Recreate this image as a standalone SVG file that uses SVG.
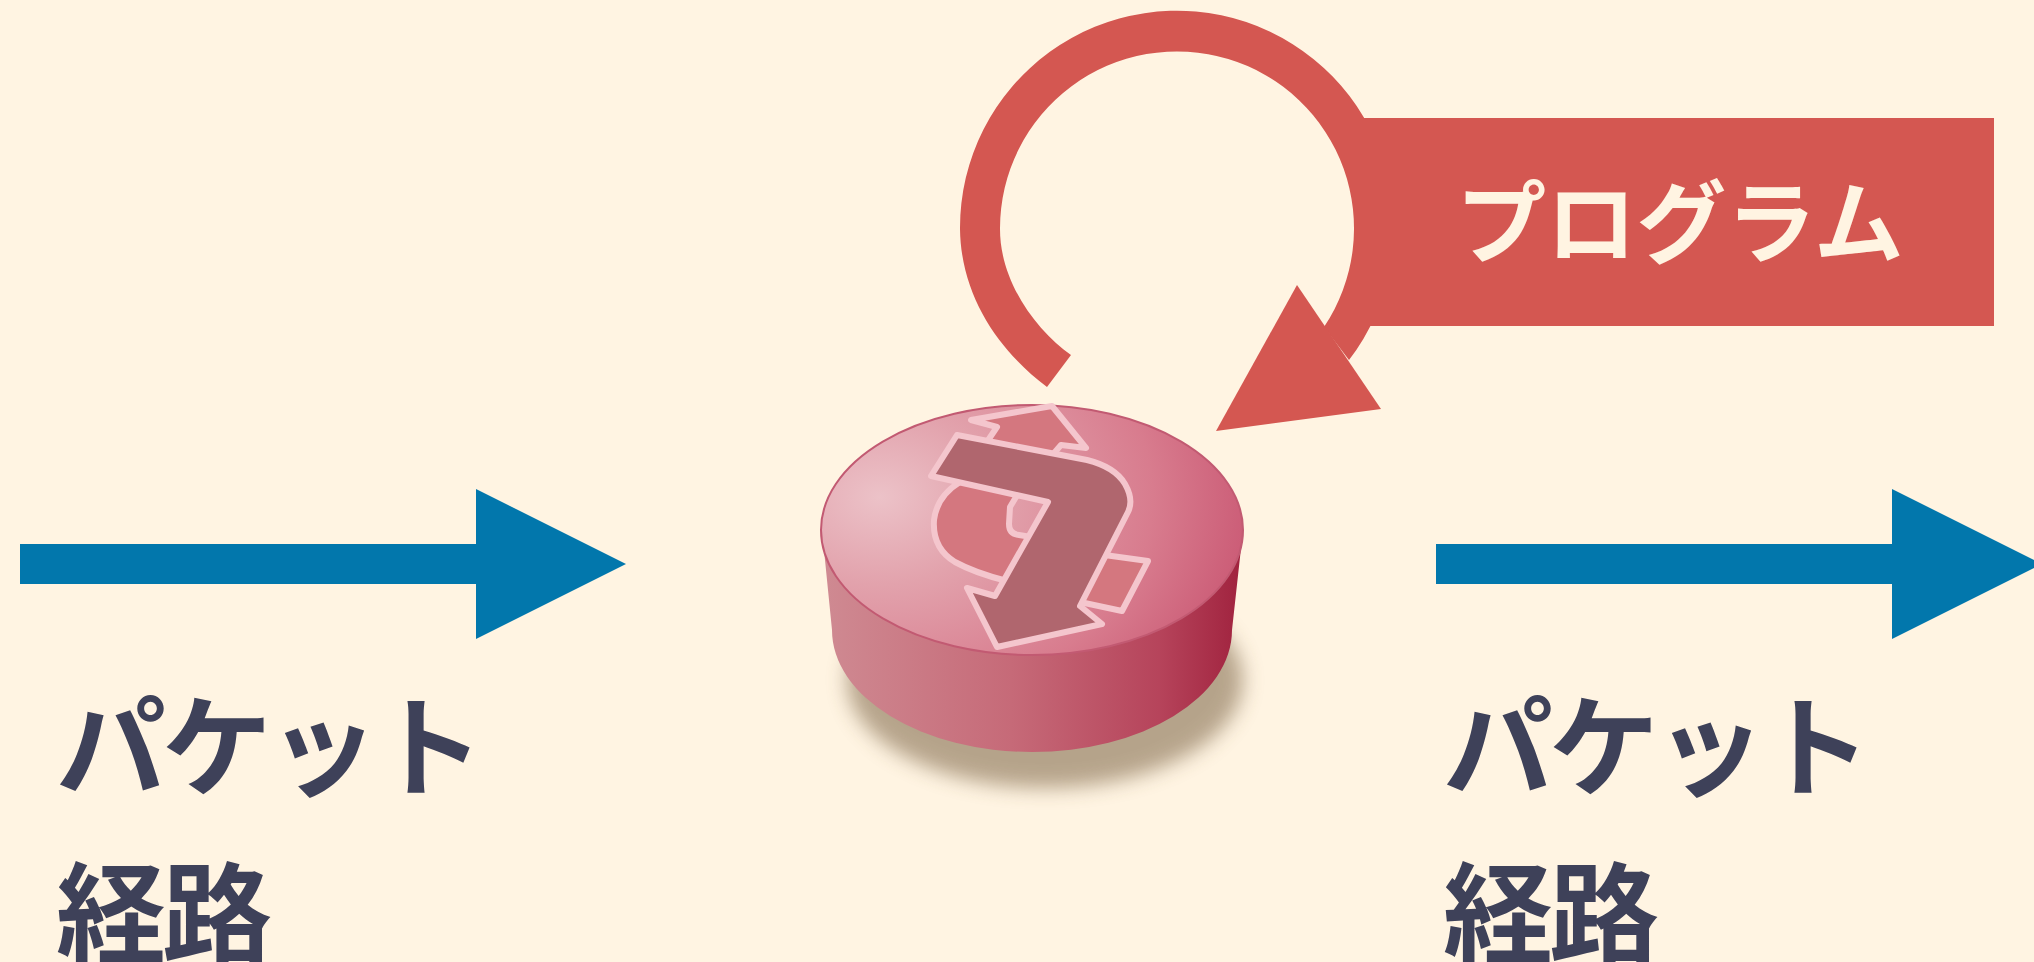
<svg xmlns="http://www.w3.org/2000/svg" width="2034" height="962" viewBox="0 0 2034 962">
  <defs>
    <style>
      .flow { fill: #0277ac; }
      .loop { fill: #d45751; }
      .label { font-family: "Noto Sans CJK JP", "Noto Sans", sans-serif; font-weight: 700; font-size: 110px; letter-spacing: -4px; fill: #3e4159; }
      .prog { font-family: "Noto Sans CJK JP", "Noto Sans", sans-serif; font-weight: 700; font-size: 90px; fill: #fff4e2; text-anchor: middle; }
      .icon-edge { stroke: #f4c6cd; stroke-width: 6; stroke-linejoin: round; }
    </style>
    <radialGradient id="topFace" gradientUnits="userSpaceOnUse" cx="880" cy="497" r="390" gradientTransform="translate(880 497) scale(1 0.75) translate(-880 -497)">
      <stop offset="0" stop-color="#ecc2c8"/>
      <stop offset="0.3" stop-color="#e2a2ac"/>
      <stop offset="0.7" stop-color="#d87c8e"/>
      <stop offset="1" stop-color="#c95672"/>
    </radialGradient>
    <linearGradient id="sideFace" gradientUnits="userSpaceOnUse" x1="822" y1="0" x2="1243" y2="0">
      <stop offset="0" stop-color="#cf8a92"/>
      <stop offset="0.45" stop-color="#c66a78"/>
      <stop offset="0.8" stop-color="#b6445b"/>
      <stop offset="1" stop-color="#a0223e"/>
    </linearGradient>
    <filter id="soft" x="-30%" y="-30%" width="160%" height="160%">
      <feGaussianBlur stdDeviation="10"/>
    </filter>
  </defs>

  <rect width="2034" height="962" fill="#fff4e2"/>

  <!-- connectors: packet flow in/out and the program feedback loop -->
  <g id="connectors">
    <polygon id="flow-in" class="flow" points="20,544 476,544 476,489 626,564 476,639 476,584 20,584"/>
    <polygon id="flow-out" class="flow" points="1436,544 1892,544 1892,489 2042,564 1892,639 1892,584 1436,584"/>
    <g id="program-loop" class="loop">
      <path d="M1324,327 A177,177 0 1 0 1000,229 C1000,282 1036,330 1071,355 L1047,387 C1003,354 961,300 960,229 A217,217 0 1 1 1349,360 Z"/>
      <polygon points="1297,285 1381,409 1216,431"/>
    </g>
  </g>

  <!-- program label box -->
  <g id="program">
    <rect x="1363" y="118" width="631" height="208" class="loop"/>
    <text class="prog" x="1680" y="256">プログラム</text>
  </g>

  <!-- router puck -->
  <g id="router">
    <ellipse cx="1045" cy="680" rx="198" ry="108" fill="#6e5536" opacity="0.5" filter="url(#soft)"/>
    <path d="M822,530 L832,630 A200,122 0 0 0 1232,630 L1243,530 Z" fill="url(#sideFace)"/>
    <ellipse cx="1032" cy="530" rx="211" ry="125" fill="url(#topFace)" stroke="#c25a72" stroke-width="2"/>
    <!-- returning arrow (behind) -->
    <path class="icon-edge" fill="#d4777f" d="M1052,406 L1086,448 L1061,445 L1016,497 L1010,507 L1009,524 Q1009,534 1019,535 L1050,540 L1090,553 L1148,561 L1122,611 L1080,602 L1007,581 Q975,573 955,562 Q932,548 934,520 Q937,496 960,482 L997,427 L971,420 Z"/>
    <!-- forward arrow (front) -->
    <path class="icon-edge" fill="#b0666e" d="M957,435 L1087,460 Q1115,467 1125,484 Q1134,500 1128,512 L1080,606 L1102,624 L997,647 L967,588 L995,596 L1048,502 L931,476 Z"/>
  </g>

  <!-- flow labels -->
  <g id="label-in">
    <text class="label" x="56" y="788">パケット</text>
    <text class="label" x="56" y="955">経路</text>
  </g>
  <g id="label-out">
    <text class="label" x="1443" y="788">パケット</text>
    <text class="label" x="1443" y="955">経路</text>
  </g>
</svg>
